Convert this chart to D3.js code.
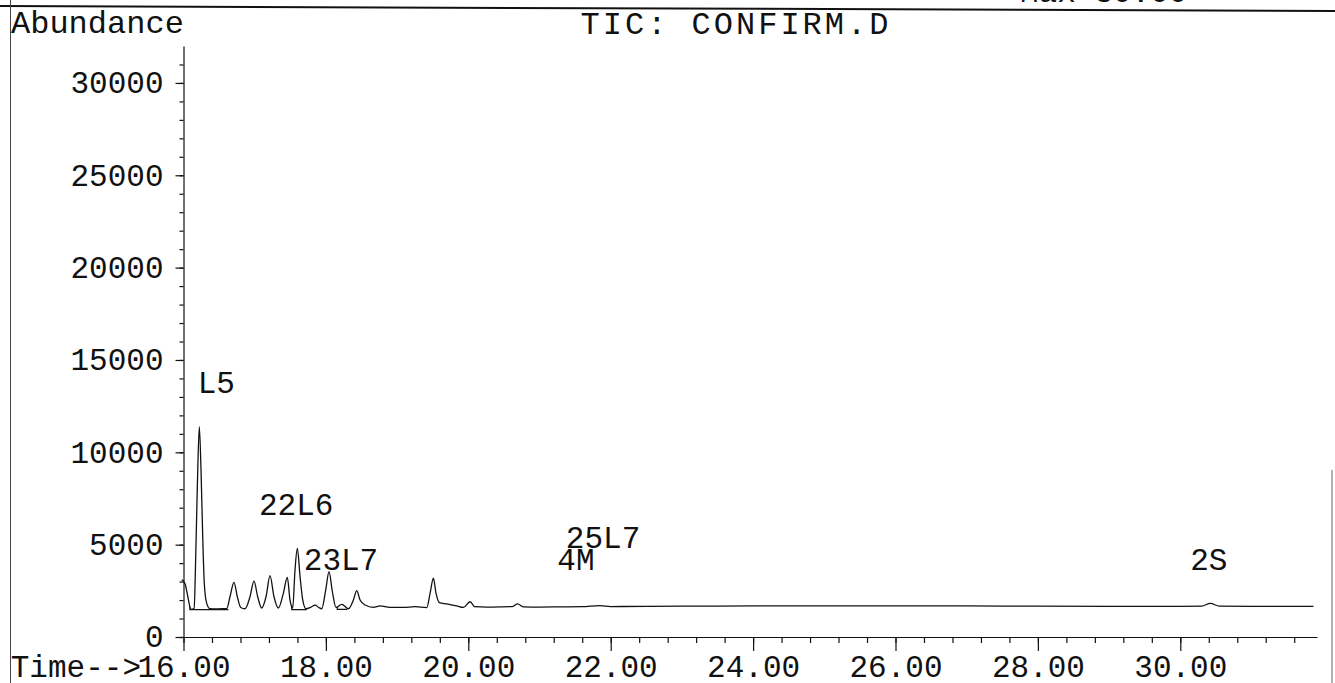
<!DOCTYPE html>
<html>
<head>
<meta charset="utf-8">
<script src="https://cdn.jsdelivr.net/npm/d3@7"></script>
<style>
  html, body { margin: 0; padding: 0; background: #fff; }
  svg { display: block; }
  text { font-family: "Liberation Mono", "Courier New", monospace; fill: #111; }
</style>
</head>
<body>
<svg id="chart" width="1335" height="683"></svg>
<script>
// ---- chart text ----
const title = "TIC: CONFIRM.D";
const yAxisTitle = "Abundance";
const xAxisPrefix = "Time-->";
const headerText = "Max   30.00";

// ---- axis ticks ----
const timeTicks = [16, 18, 20, 22, 24, 26, 28, 30];
const abundanceTicks = [0, 5000, 10000, 15000, 20000, 25000, 30000];

// ---- total ion chromatogram (retention time in min, abundance) ----
const traceTime = [
  15.975, 16.02, 16.07, 16.10, 16.15, 16.167, 16.194, 16.222, 16.246, 16.270,
  16.292, 16.326, 16.372, 16.45, 16.55, 16.607, 16.653, 16.709, 16.756, 16.804,
  16.864, 16.934, 16.990, 17.042, 17.098, 17.159, 17.215, 17.271, 17.332, 17.402,
  17.458, 17.496, 17.534, 17.566, 17.599, 17.637, 17.675, 17.721, 17.79, 17.847,
  17.90, 17.941, 17.997, 18.044, 18.091, 18.142, 18.222, 18.316, 18.386, 18.433,
  18.480, 18.550, 18.667, 18.761, 18.901, 19.088, 19.252, 19.417, 19.463, 19.510,
  19.547, 19.594, 19.698, 19.838, 19.931, 20.025, 20.09, 20.26, 20.45, 20.62,
  20.69, 20.78, 21.0, 21.3, 21.6, 21.85, 22.0, 22.5, 23.0, 24.0,
  25.0, 26.0, 27.0, 28.0, 29.0, 30.0, 30.30, 30.42, 30.55, 31.0,
  31.87
];
const traceAbundance = [
  3090, 2900, 2000, 1500, 1530, 3600, 8100, 11390, 9050, 5430,
  2900, 1820, 1530, 1520, 1530, 1540, 2180, 2960, 2180, 1600,
  1530, 2180, 3030, 2180, 1570, 2180, 3320, 2180, 1570, 2360,
  3230, 2000, 1570, 3630, 4800, 3270, 2000, 1530, 1620, 1730,
  1600, 1530, 2540, 3540, 2450, 1600, 1770, 1530, 2000, 2510,
  2000, 1730, 1600, 1680, 1600, 1600, 1640, 1590, 2360, 3180,
  2360, 1860, 1790, 1680, 1600, 1910, 1640, 1620, 1630, 1650,
  1790, 1630, 1620, 1630, 1640, 1700, 1650, 1660, 1670, 1680,
  1690, 1690, 1680, 1670, 1660, 1660, 1670, 1820, 1670, 1660,
  1660
];

// ---- integration baselines under the identified peaks ----
const integrationStart = [16.09, 17.52, 18.16];
const integrationEnd   = [16.63, 17.73, 18.30];
const integrationLevel = [1480, 1480, 1500];

// ---- peak identification labels (label time, label abundance) ----
const peakNames          = ["L5", "22L6", "23L7", "25L7", "4M", "2S"];
const peakLabelTime      = [16.20, 17.06, 17.69, 21.37, 21.25, 30.14];
const peakLabelAbundance = [13210, 6600, 3630, 4820, 3630, 3630];

// ---- layout ----
const W = 1335, H = 683;
const FONT = 31;
const svg = d3.select("#chart");

const x = d3.scaleLinear().domain([16, 31.92]).range([183.5, 1317]);
const y = d3.scaleLinear().domain([0, 32000]).range([637, 46]);

// page frame
const frame = svg.append("g").attr("stroke", "#111").attr("fill", "none");
frame.append("line").attr("x1", 0).attr("y1", 6).attr("x2", W).attr("y2", 11).attr("stroke-width", 2);
frame.append("line").attr("x1", 10.5).attr("y1", 0).attr("x2", 10.5).attr("y2", H).attr("stroke-width", 1).attr("stroke", "#444");
frame.append("line").attr("x1", 1332).attr("y1", 470).attr("x2", 1332).attr("y2", H).attr("stroke-width", 1).attr("stroke", "#666");

// header text cut by the top edge
svg.append("text").attr("x", 1020).attr("y", 1.5).attr("font-size", FONT).text(headerText);

// x axis: minor ticks every 0.4 min, major every 2 min
const minorTime = d3.range(0, 40).map(i => 16 + i * 0.4).filter(t => t <= 31.7);
svg.append("g")
  .attr("transform", `translate(0,${y(0)})`)
  .call(d3.axisBottom(x).tickValues(minorTime).tickSize(6).tickSizeOuter(0).tickFormat(""))
  .call(g => g.selectAll("line, path").attr("stroke", "#111").attr("stroke-width", 1.2));

const xMajor = svg.append("g")
  .attr("transform", `translate(0,${y(0)})`)
  .call(d3.axisBottom(x).tickValues(timeTicks).tickSize(14).tickSizeOuter(0).tickPadding(4)
        .tickFormat(d => d3.format(".2f")(d)))
  .call(g => g.select(".domain").remove())
  .call(g => g.selectAll("line").attr("stroke", "#111").attr("stroke-width", 1.2));
xMajor.selectAll("text")
  .attr("font-family", "Liberation Mono, Courier New, monospace")
  .attr("font-size", FONT).attr("fill", "#111");

// x axis prefix, running into the first tick label
svg.append("text")
  .attr("x", x(16) - 2.5 * 0.6 * FONT + 4)
  .attr("y", 677)
  .attr("text-anchor", "end")
  .attr("font-size", FONT)
  .text(xAxisPrefix);

// y axis: minor ticks every 1000, labelled every 5000
const minorAbundance = d3.range(0, 32).map(i => i * 1000);
svg.append("g")
  .attr("transform", `translate(${x(16)},0)`)
  .call(d3.axisLeft(y).tickValues(minorAbundance).tickSize(4).tickSizeOuter(0).tickFormat(""))
  .call(g => g.selectAll("line, path").attr("stroke", "#111").attr("stroke-width", 1.2));

const yMajor = svg.append("g")
  .attr("transform", `translate(${x(16)},0)`)
  .call(d3.axisLeft(y).tickValues(abundanceTicks).tickSize(8).tickSizeOuter(0).tickPadding(12)
        .tickFormat(d3.format("d")))
  .call(g => g.select(".domain").remove())
  .call(g => g.selectAll("line").attr("stroke", "#111").attr("stroke-width", 1.2));
yMajor.selectAll("text")
  .attr("font-family", "Liberation Mono, Courier New, monospace")
  .attr("font-size", FONT).attr("fill", "#111");

// titles
svg.append("text").attr("x", 11).attr("y", 33).attr("font-size", 32).text(yAxisTitle);
svg.append("text")
  .attr("x", 736).attr("y", 34)
  .attr("text-anchor", "middle")
  .attr("font-size", 32)
  .attr("letter-spacing", 3)
  .text(title);

// chromatogram trace
const trace = traceTime.map((t, i) => ({ t, v: traceAbundance[i] }));
const line = d3.line().x(d => x(d.t)).y(d => y(d.v)).curve(d3.curveMonotoneX);
svg.append("path")
  .datum(trace)
  .attr("d", line)
  .attr("fill", "none")
  .attr("stroke", "#111")
  .attr("stroke-width", 1.3)
  .attr("stroke-linejoin", "round");

// integration baselines with a drop line at the peak start
const traceAt = t => {
  const i = d3.bisector(d => d.t).left(trace, t);
  const a = trace[Math.max(0, i - 1)], b = trace[Math.min(trace.length - 1, i)];
  if (a === b) return a.v;
  return a.v + (b.v - a.v) * (t - a.t) / (b.t - a.t);
};
const integ = svg.append("g").attr("fill", "none").attr("stroke", "#111").attr("stroke-width", 1.2);
integrationStart.forEach((t0, i) => {
  const pts = [[t0, traceAt(t0)], [t0, integrationLevel[i]], [integrationEnd[i], integrationLevel[i]]];
  integ.append("path").attr("d", d3.line().x(p => x(p[0])).y(p => y(p[1]))(pts));
});

// peak labels
svg.append("g").selectAll("text")
  .data(peakNames)
  .join("text")
  .attr("x", (d, i) => x(peakLabelTime[i]))
  .attr("y", (d, i) => y(peakLabelAbundance[i]))
  .attr("font-size", FONT)
  .text(d => d);
</script>
</body>
</html>
